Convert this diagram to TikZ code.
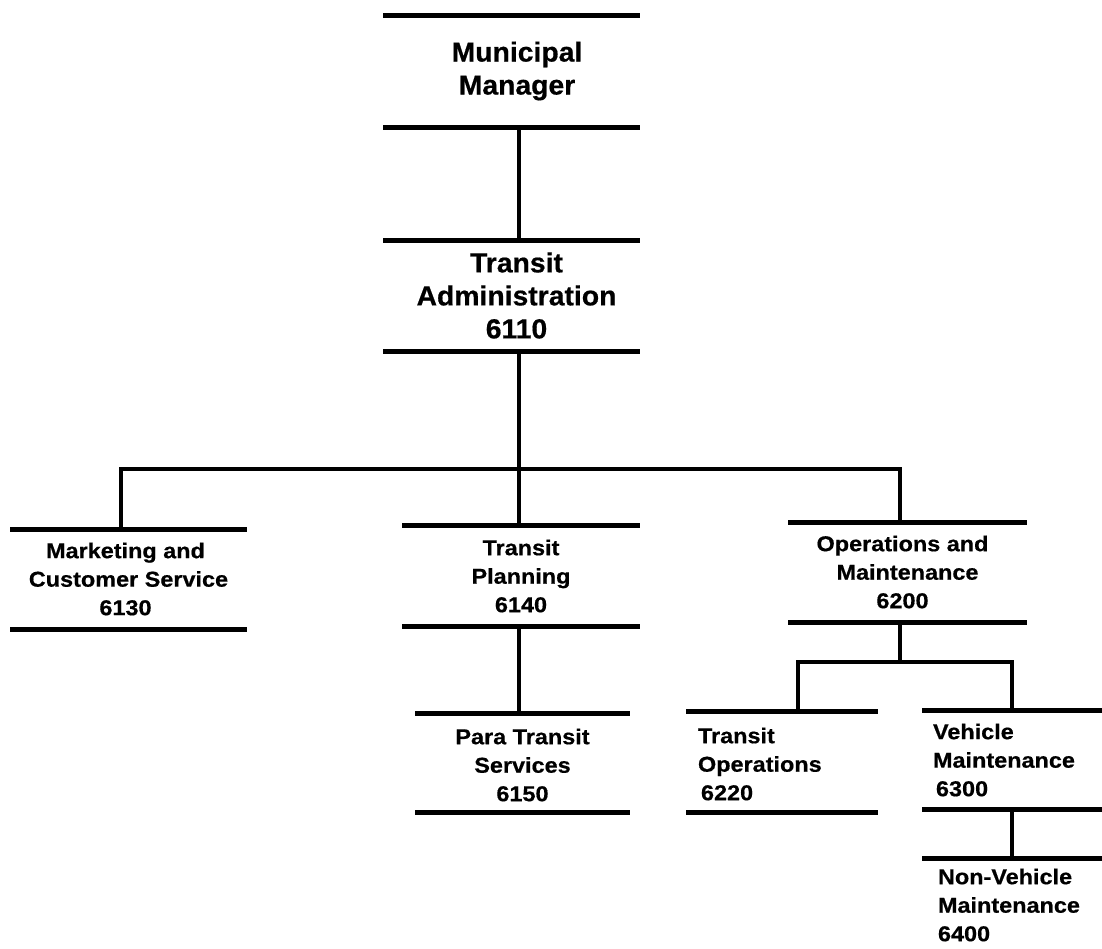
\documentclass[tikz,border=0pt]{standalone}
\usepackage{fontspec}
\setmainfont{Liberation Sans}
\newfontfamily\bigfont{Liberation Sans}[FakeStretch=1.03,FakeBold=0.6]
\newfontfamily\smallfont{Liberation Sans}[FakeStretch=1.09,FakeBold=0.6]
\begin{document}
\begin{tikzpicture}[x=1pt,y=-1pt,
  box/.style={rectangle, inner sep=0pt, outer sep=0pt, align=center},
  lbox/.style={rectangle, inner ysep=0pt, outer sep=0pt, align=left},
  big/.style={font=\bigfont\bfseries\fontsize{27.5}{33}\selectfont},
  small/.style={font=\smallfont\bfseries\fontsize{21.5}{28.5}\selectfont},
  rule/.style={line width=5pt},
  conn/.style={line width=4.5pt, line join=miter}]
\useasboundingbox (0,0) rectangle (1102,948);

% boxes (text + top/bottom rules)
\node[box,big,minimum width=257,minimum height=112] (mm) at (511.5,71) {\hspace*{11pt}Municipal\\\hspace*{11pt}Manager};
\node[box,big,minimum width=257,minimum height=111] (ta) at (511.5,295.5) {\hspace*{10pt}Transit\\\hspace*{10pt}Administration\\\hspace*{10pt}6110};
\node[box,small,minimum width=237,minimum height=100] (mk) at (128.5,579) {Marketing and\hspace*{6pt}\\Customer Service\hspace*{6pt}\\6130\hspace*{6pt}};
\node[box,small,minimum width=238,minimum height=101] (tp) at (521,576) {Transit\\Planning\\6140};
\node[box,small,minimum width=215,minimum height=99] (pt) at (522.5,765) {Para Transit\\Services\\6150};
\node[box,small,minimum width=239,minimum height=100] (om) at (907.5,572) {Operations and\hspace*{10pt}\\Maintenance\hspace*{10pt}\\6200\hspace*{10pt}};
\node[lbox,small,inner xsep=12pt,text width=168pt,minimum height=101] (to) at (782,764) {Transit\\Operations\\\hspace*{3pt}6220};
\node[lbox,small,inner xsep=11pt,text width=158pt,minimum height=99] (vm) at (1012,760) {Vehicle\\Maintenance\\\hspace*{3pt}6300};
\node[lbox,small,inner xsep=16pt,text width=148pt,minimum height=94] (nv) at (1012,905) {Non-Vehicle\\Maintenance\\6400};

% rules
\foreach \n in {mm,ta,mk,tp,om,vm}{
  \draw[rule] (\n.north west) -- (\n.north east);
  \draw[rule] (\n.south west) -- (\n.south east);
}
\draw[rule] ([yshift=2pt]pt.north west) -- ([yshift=2pt]pt.north east);
\draw[rule] ([yshift=2pt]pt.south west) -- ([yshift=2pt]pt.south east);
\draw[rule] ([yshift=2pt]to.north west) -- ([yshift=2pt]to.north east);
\draw[rule] ([yshift=2pt]to.south west) -- ([yshift=2pt]to.south east);
\draw[rule] (nv.north west) -- (nv.north east);

% junction coordinates
\coordinate (c1) at (519,469);
\coordinate (kL) at (121,469);
\coordinate (kR) at (900,469);
\coordinate (k2) at (900,662);
\coordinate (k2L) at (798,662);
\coordinate (k2R) at (1012,662);

% connectors
\draw[conn] (mm.south -| c1) -- (ta.north -| c1);
\draw[conn] (ta.south -| c1) -- (tp.north -| c1);
\draw[conn] (mk.north -| kL) -- (kL) -- (kR) -- (om.north -| kR);
\draw[conn] (tp.south -| c1) -- ([yshift=2pt]pt.north -| c1);
\draw[conn] (om.south -| k2) -- (k2);
\draw[conn] ([yshift=2pt]to.north -| k2L) -- (k2L) -- (k2R) -- (vm.north -| k2R);
\draw[conn] (vm.south -| k2R) -- (nv.north -| k2R);
\end{tikzpicture}
\end{document}
